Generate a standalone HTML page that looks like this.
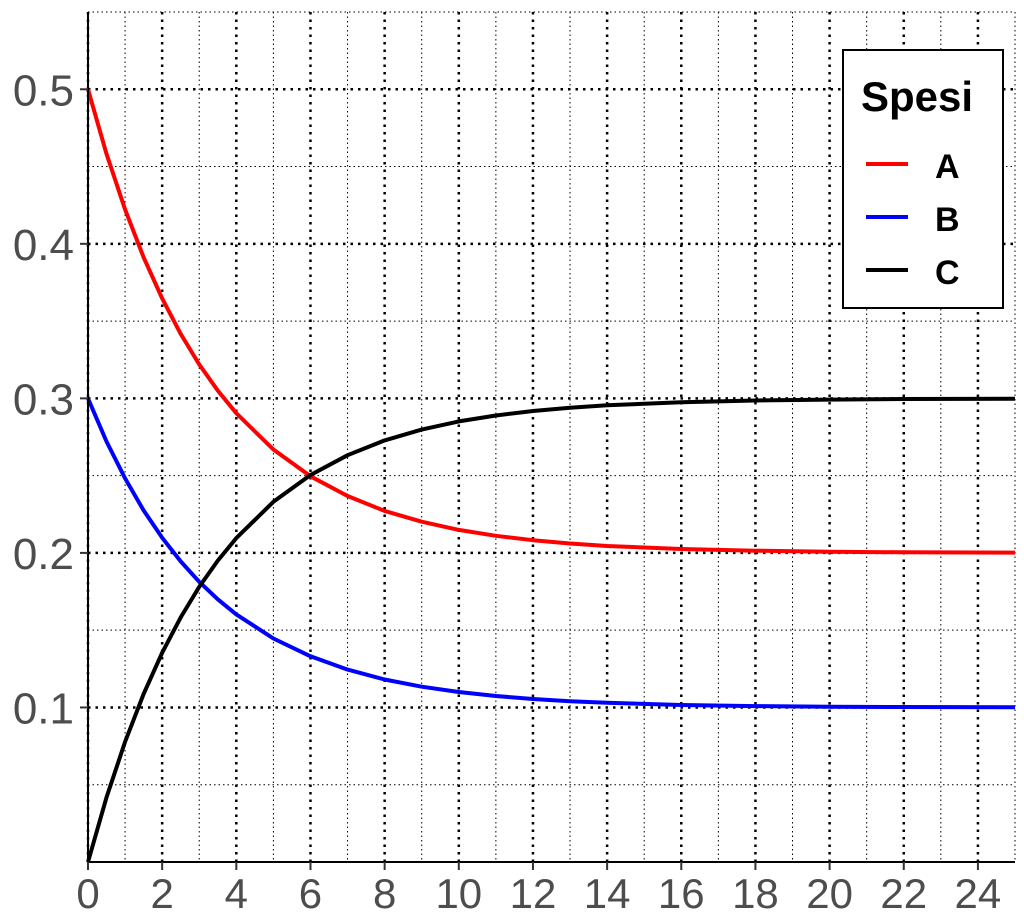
<!DOCTYPE html>
<html><head><meta charset="utf-8"><style>
body{margin:0;background:#fff}
svg{display:block;font-family:"Liberation Sans",sans-serif}
</style></head><body>
<svg id="chart" width="1024" height="917">
<g id="grid"></g>
<g id="lines"></g>
<g id="axes"></g>
<g>
<rect x="843" y="50" width="160" height="258" fill="#fff" stroke="#000" stroke-width="2"/>
<text x="861" y="111" font-size="42" font-weight="bold" fill="#000">Spesi</text>
<line x1="866" y1="164" x2="908" y2="164" stroke="#ff0000" stroke-width="4"/>
<text x="935" y="178" font-size="34" font-weight="bold">A</text>
<line x1="866" y1="217" x2="908" y2="217" stroke="#0000ff" stroke-width="4"/>
<text x="935" y="231" font-size="34" font-weight="bold">B</text>
<line x1="866" y1="270" x2="908" y2="270" stroke="#000" stroke-width="4"/>
<text x="935" y="284" font-size="34" font-weight="bold">C</text>
</g>
</svg>
<script>
const times=[0,0.5,1,1.5,2,2.5,3,3.5,4,5,6,7,8,9,10,11,12,13,14,16,18,20,22,25];
const seriesA=[0.5,0.4582,0.4222,0.3913,0.3646,0.3417,0.3220,0.3050,0.2904,0.2669,0.2496,0.2368,0.2272,0.2202,0.2149,0.2111,0.2082,0.2061,0.2045,0.2025,0.2014,0.2008,0.2004,0.2002];
const seriesB=[0.3,0.2721,0.2482,0.2275,0.2098,0.1945,0.1813,0.1700,0.1602,0.1446,0.1331,0.1245,0.1181,0.1134,0.1100,0.1074,0.1055,0.1040,0.1030,0.1016,0.1009,0.1005,0.1003,0.1001];
const seriesC=[0,0.0418,0.0778,0.1087,0.1354,0.1583,0.1780,0.1950,0.2096,0.2331,0.2504,0.2632,0.2728,0.2798,0.2851,0.2889,0.2918,0.2939,0.2955,0.2975,0.2986,0.2992,0.2996,0.2998];
const xTicks=[0,2,4,6,8,10,12,14,16,18,20,22,24];
const yTicks=[0.1,0.2,0.3,0.4,0.5];
const X0=88,X1=1015,Y0=862,Y1=12,xMax=25,yMax=0.55;
const sx=v=>X0+v/xMax*(X1-X0);
const sy=v=>Y0-v/yMax*(Y0-Y1);
const NS="http://www.w3.org/2000/svg";
function mk(parent,tag,attrs){const e=document.createElementNS(NS,tag);for(const k in attrs)e.setAttribute(k,attrs[k]);parent.appendChild(e);return e;}
const grid=document.getElementById('grid');
for(let i=1;i<=xMax;i+=2){const l=mk(grid,'line',{x1:sx(i),x2:sx(i),y1:Y1,y2:Y0,stroke:'#000','stroke-width':1,'stroke-dasharray':'1.5 3'});

}
for(let v=0.05;v<yMax;v+=0.1){const l=mk(grid,'line',{x1:X0,x2:X1,y1:sy(v),y2:sy(v),stroke:'#000','stroke-width':1,'stroke-dasharray':'1.5 3'});

}
xTicks.forEach(t=>{const l=mk(grid,'line',{x1:sx(t),x2:sx(t),y1:Y1,y2:Y0,stroke:'#000','stroke-width':2.5,'stroke-dasharray':'2.5 5'});

});
yTicks.forEach(t=>{const l=mk(grid,'line',{x1:X0,x2:X1,y1:sy(t),y2:sy(t),stroke:'#000','stroke-width':2.5,'stroke-dasharray':'2.5 5'});

});
const lines=document.getElementById('lines');
[[seriesA,'#ff0000','line-a'],[seriesB,'#0000ff','line-b'],[seriesC,'#000000','line-c']].forEach(([s,c,n])=>{
const d=s.map((v,i)=>(i?'L':'M')+sx(times[i]).toFixed(1)+','+sy(v).toFixed(1)).join('');
const p=mk(lines,'path',{d:d,fill:'none',stroke:c,'stroke-width':4,'stroke-linejoin':'round'});

});
const axes=document.getElementById('axes');
mk(axes,'line',{x1:X0,x2:X0,y1:Y1,y2:Y0,stroke:'#000','stroke-width':2});
mk(axes,'line',{x1:X0,x2:X1,y1:Y0,y2:Y0,stroke:'#000','stroke-width':2});
xTicks.forEach(t=>{mk(axes,'line',{x1:sx(t),x2:sx(t),y1:Y0,y2:Y0+8,stroke:'#333','stroke-width':2});
const tx=mk(axes,'text',{x:sx(t),y:908,'font-size':42,fill:'#4d4d4d','text-anchor':'middle'});tx.textContent=t;

});
yTicks.forEach(t=>{mk(axes,'line',{x1:X0-8,x2:X0,y1:sy(t),y2:sy(t),stroke:'#333','stroke-width':2});
const tx=mk(axes,'text',{x:74,y:sy(t)+16,'font-size':44,fill:'#4d4d4d','text-anchor':'end'});tx.textContent=t.toFixed(1);

});
</script>
</body></html>
